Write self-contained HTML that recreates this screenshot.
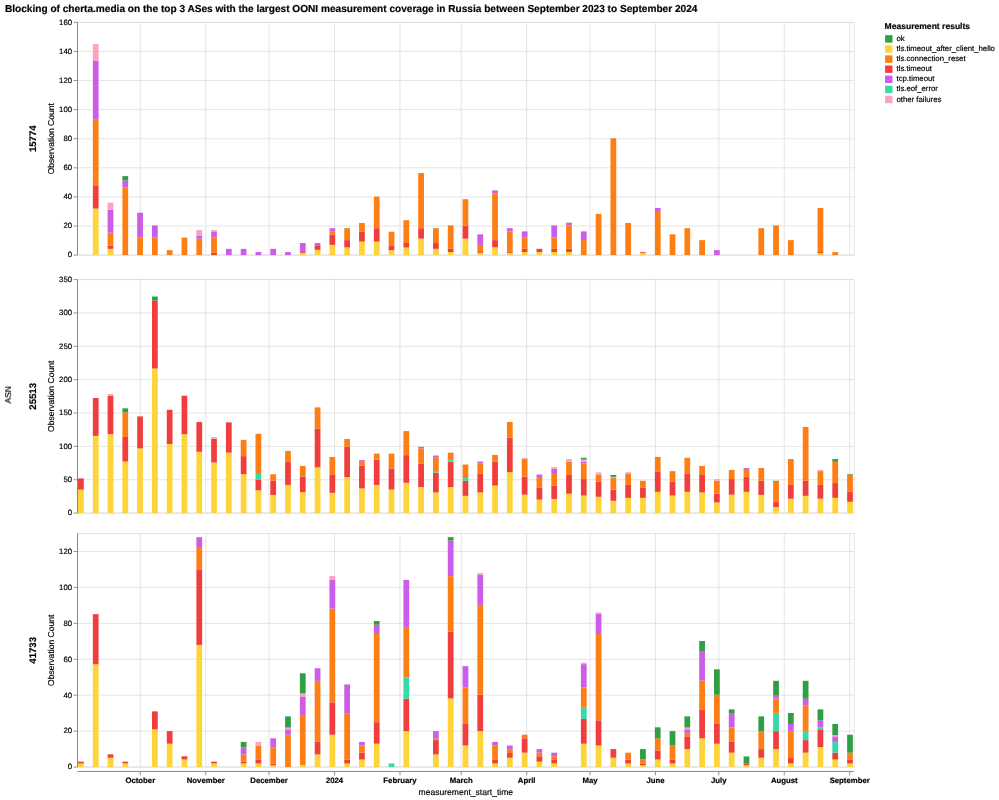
<!DOCTYPE html>
<html><head><meta charset="utf-8"><title>chart</title>
<style>html,body{margin:0;padding:0;background:#fff;}body{width:999px;height:800px;overflow:hidden;font-family:"Liberation Sans",sans-serif;}svg{display:block;}</style>
</head><body>
<svg width="999" height="800" viewBox="0 0 999 800" font-family="Liberation Sans, sans-serif" text-rendering="geometricPrecision">
<rect width="999" height="800" fill="#fff"/>
<g stroke="#ddd" stroke-width="0.78" fill="none">
<line x1="140.30" x2="140.30" y1="22.35" y2="255.10"/>
<line x1="205.75" x2="205.75" y1="22.35" y2="255.10"/>
<line x1="269.09" x2="269.09" y1="22.35" y2="255.10"/>
<line x1="334.54" x2="334.54" y1="22.35" y2="255.10"/>
<line x1="399.99" x2="399.99" y1="22.35" y2="255.10"/>
<line x1="461.22" x2="461.22" y1="22.35" y2="255.10"/>
<line x1="526.67" x2="526.67" y1="22.35" y2="255.10"/>
<line x1="590.01" x2="590.01" y1="22.35" y2="255.10"/>
<line x1="655.46" x2="655.46" y1="22.35" y2="255.10"/>
<line x1="718.80" x2="718.80" y1="22.35" y2="255.10"/>
<line x1="784.25" x2="784.25" y1="22.35" y2="255.10"/>
<line x1="849.70" x2="849.70" y1="22.35" y2="255.10"/>
<line x1="77.50" x2="854.15" y1="255.10" y2="255.10"/>
<line x1="77.50" x2="854.15" y1="226.01" y2="226.01"/>
<line x1="77.50" x2="854.15" y1="196.91" y2="196.91"/>
<line x1="77.50" x2="854.15" y1="167.82" y2="167.82"/>
<line x1="77.50" x2="854.15" y1="138.72" y2="138.72"/>
<line x1="77.50" x2="854.15" y1="109.63" y2="109.63"/>
<line x1="77.50" x2="854.15" y1="80.54" y2="80.54"/>
<line x1="77.50" x2="854.15" y1="51.44" y2="51.44"/>
<line x1="77.50" x2="854.15" y1="22.35" y2="22.35"/>
<rect x="77.50" y="22.35" width="776.65" height="232.75"/>
</g>
<g stroke="#888" stroke-width="0.9">
<line x1="77.50" x2="77.50" y1="22.35" y2="255.10" stroke-width="1"/>
<line x1="73.60" x2="77.50" y1="255.10" y2="255.10"/>
<line x1="73.60" x2="77.50" y1="226.01" y2="226.01"/>
<line x1="73.60" x2="77.50" y1="196.91" y2="196.91"/>
<line x1="73.60" x2="77.50" y1="167.82" y2="167.82"/>
<line x1="73.60" x2="77.50" y1="138.72" y2="138.72"/>
<line x1="73.60" x2="77.50" y1="109.63" y2="109.63"/>
<line x1="73.60" x2="77.50" y1="80.54" y2="80.54"/>
<line x1="73.60" x2="77.50" y1="51.44" y2="51.44"/>
<line x1="73.60" x2="77.50" y1="22.35" y2="22.35"/>
</g>
<g>
<rect x="92.84" y="208.55" width="5.75" height="46.55" fill="#ffd43b"/>
<rect x="92.84" y="185.28" width="5.75" height="23.28" fill="#f03e3e"/>
<rect x="92.84" y="119.81" width="5.75" height="65.46" fill="#fd7e14"/>
<rect x="92.84" y="60.90" width="5.75" height="58.91" fill="#cc5de8"/>
<rect x="92.84" y="44.17" width="5.75" height="16.73" fill="#faa2c1"/>
<rect x="107.62" y="248.84" width="5.75" height="6.26" fill="#ffd43b"/>
<rect x="107.62" y="245.79" width="5.75" height="3.05" fill="#f03e3e"/>
<rect x="107.62" y="232.70" width="5.75" height="13.09" fill="#fd7e14"/>
<rect x="107.62" y="209.71" width="5.75" height="22.98" fill="#cc5de8"/>
<rect x="107.62" y="202.73" width="5.75" height="6.98" fill="#faa2c1"/>
<rect x="122.41" y="187.60" width="5.75" height="67.50" fill="#fd7e14"/>
<rect x="122.41" y="180.47" width="5.75" height="7.13" fill="#cc5de8"/>
<rect x="122.41" y="176.11" width="5.75" height="4.36" fill="#2f9e44"/>
<rect x="137.20" y="237.21" width="5.75" height="17.89" fill="#fd7e14"/>
<rect x="137.20" y="212.62" width="5.75" height="24.58" fill="#cc5de8"/>
<rect x="152.00" y="237.21" width="5.75" height="17.89" fill="#fd7e14"/>
<rect x="152.00" y="225.42" width="5.75" height="11.78" fill="#cc5de8"/>
<rect x="166.78" y="250.15" width="5.75" height="4.95" fill="#fd7e14"/>
<rect x="181.57" y="237.64" width="5.75" height="17.46" fill="#fd7e14"/>
<rect x="196.37" y="238.66" width="5.75" height="16.44" fill="#fd7e14"/>
<rect x="196.37" y="235.46" width="5.75" height="3.20" fill="#cc5de8"/>
<rect x="196.37" y="230.08" width="5.75" height="5.38" fill="#faa2c1"/>
<rect x="211.15" y="252.92" width="5.75" height="2.18" fill="#f03e3e"/>
<rect x="211.15" y="237.21" width="5.75" height="15.71" fill="#fd7e14"/>
<rect x="211.15" y="231.39" width="5.75" height="5.82" fill="#cc5de8"/>
<rect x="211.15" y="230.08" width="5.75" height="1.31" fill="#faa2c1"/>
<rect x="225.94" y="248.84" width="5.75" height="6.26" fill="#cc5de8"/>
<rect x="240.74" y="248.84" width="5.75" height="6.26" fill="#cc5de8"/>
<rect x="255.52" y="252.05" width="5.75" height="3.05" fill="#cc5de8"/>
<rect x="270.31" y="248.84" width="5.75" height="6.26" fill="#cc5de8"/>
<rect x="285.11" y="252.05" width="5.75" height="3.05" fill="#cc5de8"/>
<rect x="299.89" y="252.92" width="5.75" height="2.18" fill="#ffd43b"/>
<rect x="299.89" y="252.05" width="5.75" height="0.87" fill="#f03e3e"/>
<rect x="299.89" y="243.03" width="5.75" height="9.02" fill="#cc5de8"/>
<rect x="314.69" y="249.86" width="5.75" height="5.24" fill="#ffd43b"/>
<rect x="314.69" y="245.94" width="5.75" height="3.93" fill="#f03e3e"/>
<rect x="314.69" y="243.03" width="5.75" height="2.91" fill="#cc5de8"/>
<rect x="329.47" y="244.92" width="5.75" height="10.18" fill="#ffd43b"/>
<rect x="329.47" y="234.44" width="5.75" height="10.47" fill="#f03e3e"/>
<rect x="329.47" y="231.68" width="5.75" height="2.76" fill="#fd7e14"/>
<rect x="329.47" y="228.19" width="5.75" height="3.49" fill="#cc5de8"/>
<rect x="344.26" y="247.39" width="5.75" height="7.71" fill="#ffd43b"/>
<rect x="344.26" y="240.12" width="5.75" height="7.27" fill="#f03e3e"/>
<rect x="344.26" y="228.19" width="5.75" height="11.93" fill="#fd7e14"/>
<rect x="359.06" y="241.57" width="5.75" height="13.53" fill="#ffd43b"/>
<rect x="359.06" y="231.39" width="5.75" height="10.18" fill="#f03e3e"/>
<rect x="359.06" y="222.95" width="5.75" height="8.44" fill="#fd7e14"/>
<rect x="373.84" y="241.57" width="5.75" height="13.53" fill="#ffd43b"/>
<rect x="373.84" y="228.19" width="5.75" height="13.38" fill="#f03e3e"/>
<rect x="373.84" y="196.62" width="5.75" height="31.57" fill="#fd7e14"/>
<rect x="388.63" y="250.15" width="5.75" height="4.95" fill="#ffd43b"/>
<rect x="388.63" y="245.94" width="5.75" height="4.22" fill="#f03e3e"/>
<rect x="388.63" y="231.68" width="5.75" height="14.26" fill="#fd7e14"/>
<rect x="403.43" y="247.54" width="5.75" height="7.56" fill="#ffd43b"/>
<rect x="403.43" y="243.03" width="5.75" height="4.51" fill="#f03e3e"/>
<rect x="403.43" y="220.19" width="5.75" height="22.84" fill="#fd7e14"/>
<rect x="418.21" y="238.66" width="5.75" height="16.44" fill="#ffd43b"/>
<rect x="418.21" y="228.19" width="5.75" height="10.47" fill="#f03e3e"/>
<rect x="418.21" y="173.06" width="5.75" height="55.13" fill="#fd7e14"/>
<rect x="433.00" y="248.84" width="5.75" height="6.26" fill="#ffd43b"/>
<rect x="433.00" y="243.03" width="5.75" height="5.82" fill="#f03e3e"/>
<rect x="433.00" y="228.19" width="5.75" height="14.84" fill="#fd7e14"/>
<rect x="447.80" y="252.05" width="5.75" height="3.05" fill="#ffd43b"/>
<rect x="447.80" y="248.84" width="5.75" height="3.20" fill="#f03e3e"/>
<rect x="447.80" y="225.42" width="5.75" height="23.42" fill="#fd7e14"/>
<rect x="462.58" y="238.66" width="5.75" height="16.44" fill="#ffd43b"/>
<rect x="462.58" y="225.42" width="5.75" height="13.24" fill="#f03e3e"/>
<rect x="462.58" y="199.24" width="5.75" height="26.18" fill="#fd7e14"/>
<rect x="477.38" y="252.92" width="5.75" height="2.18" fill="#ffd43b"/>
<rect x="477.38" y="252.05" width="5.75" height="0.87" fill="#f03e3e"/>
<rect x="477.38" y="245.79" width="5.75" height="6.26" fill="#fd7e14"/>
<rect x="477.38" y="234.30" width="5.75" height="11.49" fill="#cc5de8"/>
<rect x="492.17" y="247.39" width="5.75" height="7.71" fill="#ffd43b"/>
<rect x="492.17" y="240.12" width="5.75" height="7.27" fill="#f03e3e"/>
<rect x="492.17" y="193.71" width="5.75" height="46.40" fill="#fd7e14"/>
<rect x="492.17" y="190.37" width="5.75" height="3.35" fill="#cc5de8"/>
<rect x="506.95" y="252.92" width="5.75" height="2.18" fill="#ffd43b"/>
<rect x="506.95" y="252.05" width="5.75" height="0.87" fill="#f03e3e"/>
<rect x="506.95" y="231.39" width="5.75" height="20.66" fill="#fd7e14"/>
<rect x="506.95" y="228.19" width="5.75" height="3.20" fill="#cc5de8"/>
<rect x="521.75" y="252.05" width="5.75" height="3.05" fill="#ffd43b"/>
<rect x="521.75" y="248.84" width="5.75" height="3.20" fill="#f03e3e"/>
<rect x="521.75" y="237.64" width="5.75" height="11.20" fill="#fd7e14"/>
<rect x="521.75" y="231.39" width="5.75" height="6.26" fill="#cc5de8"/>
<rect x="536.53" y="252.05" width="5.75" height="3.05" fill="#ffd43b"/>
<rect x="536.53" y="248.84" width="5.75" height="3.20" fill="#f03e3e"/>
<rect x="551.32" y="252.05" width="5.75" height="3.05" fill="#ffd43b"/>
<rect x="551.32" y="248.84" width="5.75" height="3.20" fill="#f03e3e"/>
<rect x="551.32" y="237.35" width="5.75" height="11.49" fill="#fd7e14"/>
<rect x="551.32" y="225.42" width="5.75" height="11.93" fill="#cc5de8"/>
<rect x="566.12" y="252.05" width="5.75" height="3.05" fill="#ffd43b"/>
<rect x="566.12" y="248.84" width="5.75" height="3.20" fill="#f03e3e"/>
<rect x="566.12" y="225.42" width="5.75" height="23.42" fill="#fd7e14"/>
<rect x="566.12" y="222.66" width="5.75" height="2.76" fill="#cc5de8"/>
<rect x="580.90" y="240.12" width="5.75" height="14.98" fill="#fd7e14"/>
<rect x="580.90" y="231.39" width="5.75" height="8.73" fill="#cc5de8"/>
<rect x="595.69" y="213.93" width="5.75" height="41.17" fill="#fd7e14"/>
<rect x="610.48" y="138.29" width="5.75" height="116.81" fill="#fd7e14"/>
<rect x="625.27" y="222.95" width="5.75" height="32.15" fill="#fd7e14"/>
<rect x="640.06" y="252.92" width="5.75" height="2.18" fill="#ffd43b"/>
<rect x="640.06" y="252.05" width="5.75" height="0.87" fill="#f03e3e"/>
<rect x="654.85" y="211.02" width="5.75" height="44.08" fill="#fd7e14"/>
<rect x="654.85" y="207.97" width="5.75" height="3.05" fill="#cc5de8"/>
<rect x="669.64" y="234.30" width="5.75" height="20.80" fill="#fd7e14"/>
<rect x="684.43" y="228.19" width="5.75" height="26.91" fill="#fd7e14"/>
<rect x="699.22" y="240.12" width="5.75" height="14.98" fill="#fd7e14"/>
<rect x="714.01" y="250.15" width="5.75" height="4.95" fill="#cc5de8"/>
<rect x="758.38" y="228.19" width="5.75" height="26.91" fill="#fd7e14"/>
<rect x="773.17" y="225.42" width="5.75" height="29.68" fill="#fd7e14"/>
<rect x="787.96" y="240.12" width="5.75" height="14.98" fill="#fd7e14"/>
<rect x="817.54" y="253.21" width="5.75" height="1.89" fill="#ffd43b"/>
<rect x="817.54" y="252.05" width="5.75" height="1.16" fill="#f03e3e"/>
<rect x="817.54" y="207.97" width="5.75" height="44.08" fill="#fd7e14"/>
<rect x="832.33" y="252.05" width="5.75" height="3.05" fill="#fd7e14"/>
</g>
<g stroke="#ddd" stroke-width="0.78" fill="none">
<line x1="140.30" x2="140.30" y1="279.60" y2="513.10"/>
<line x1="205.75" x2="205.75" y1="279.60" y2="513.10"/>
<line x1="269.09" x2="269.09" y1="279.60" y2="513.10"/>
<line x1="334.54" x2="334.54" y1="279.60" y2="513.10"/>
<line x1="399.99" x2="399.99" y1="279.60" y2="513.10"/>
<line x1="461.22" x2="461.22" y1="279.60" y2="513.10"/>
<line x1="526.67" x2="526.67" y1="279.60" y2="513.10"/>
<line x1="590.01" x2="590.01" y1="279.60" y2="513.10"/>
<line x1="655.46" x2="655.46" y1="279.60" y2="513.10"/>
<line x1="718.80" x2="718.80" y1="279.60" y2="513.10"/>
<line x1="784.25" x2="784.25" y1="279.60" y2="513.10"/>
<line x1="849.70" x2="849.70" y1="279.60" y2="513.10"/>
<line x1="77.50" x2="854.15" y1="513.10" y2="513.10"/>
<line x1="77.50" x2="854.15" y1="479.74" y2="479.74"/>
<line x1="77.50" x2="854.15" y1="446.39" y2="446.39"/>
<line x1="77.50" x2="854.15" y1="413.03" y2="413.03"/>
<line x1="77.50" x2="854.15" y1="379.67" y2="379.67"/>
<line x1="77.50" x2="854.15" y1="346.31" y2="346.31"/>
<line x1="77.50" x2="854.15" y1="312.96" y2="312.96"/>
<line x1="77.50" x2="854.15" y1="279.60" y2="279.60"/>
<rect x="77.50" y="279.60" width="776.65" height="233.50"/>
</g>
<g stroke="#888" stroke-width="0.9">
<line x1="77.50" x2="77.50" y1="279.60" y2="513.10" stroke-width="1"/>
<line x1="73.60" x2="77.50" y1="513.10" y2="513.10"/>
<line x1="73.60" x2="77.50" y1="479.74" y2="479.74"/>
<line x1="73.60" x2="77.50" y1="446.39" y2="446.39"/>
<line x1="73.60" x2="77.50" y1="413.03" y2="413.03"/>
<line x1="73.60" x2="77.50" y1="379.67" y2="379.67"/>
<line x1="73.60" x2="77.50" y1="346.31" y2="346.31"/>
<line x1="73.60" x2="77.50" y1="312.96" y2="312.96"/>
<line x1="73.60" x2="77.50" y1="279.60" y2="279.60"/>
</g>
<g>
<rect x="78.05" y="489.68" width="5.75" height="23.42" fill="#ffd43b"/>
<rect x="78.05" y="478.41" width="5.75" height="11.27" fill="#f03e3e"/>
<rect x="92.84" y="435.84" width="5.75" height="77.26" fill="#ffd43b"/>
<rect x="92.84" y="398.02" width="5.75" height="37.83" fill="#f03e3e"/>
<rect x="107.62" y="434.24" width="5.75" height="78.86" fill="#ffd43b"/>
<rect x="107.62" y="395.75" width="5.75" height="38.49" fill="#f03e3e"/>
<rect x="107.62" y="394.08" width="5.75" height="1.67" fill="#faa2c1"/>
<rect x="122.41" y="461.53" width="5.75" height="51.57" fill="#ffd43b"/>
<rect x="122.41" y="436.98" width="5.75" height="24.55" fill="#f03e3e"/>
<rect x="122.41" y="412.29" width="5.75" height="24.68" fill="#fd7e14"/>
<rect x="122.41" y="408.36" width="5.75" height="3.94" fill="#2f9e44"/>
<rect x="137.20" y="448.39" width="5.75" height="64.71" fill="#ffd43b"/>
<rect x="137.20" y="416.43" width="5.75" height="31.96" fill="#f03e3e"/>
<rect x="152.00" y="368.53" width="5.75" height="144.57" fill="#ffd43b"/>
<rect x="152.00" y="300.48" width="5.75" height="68.05" fill="#f03e3e"/>
<rect x="152.00" y="296.55" width="5.75" height="3.94" fill="#2f9e44"/>
<rect x="166.78" y="443.98" width="5.75" height="69.12" fill="#ffd43b"/>
<rect x="166.78" y="409.83" width="5.75" height="34.16" fill="#f03e3e"/>
<rect x="181.57" y="434.24" width="5.75" height="78.86" fill="#ffd43b"/>
<rect x="181.57" y="395.75" width="5.75" height="38.49" fill="#f03e3e"/>
<rect x="196.37" y="451.79" width="5.75" height="61.31" fill="#ffd43b"/>
<rect x="196.37" y="422.10" width="5.75" height="29.69" fill="#f03e3e"/>
<rect x="211.15" y="462.40" width="5.75" height="50.70" fill="#ffd43b"/>
<rect x="211.15" y="438.85" width="5.75" height="23.55" fill="#f03e3e"/>
<rect x="211.15" y="436.98" width="5.75" height="1.87" fill="#faa2c1"/>
<rect x="225.94" y="452.66" width="5.75" height="60.44" fill="#ffd43b"/>
<rect x="225.94" y="422.37" width="5.75" height="30.29" fill="#f03e3e"/>
<rect x="240.74" y="474.27" width="5.75" height="38.83" fill="#ffd43b"/>
<rect x="240.74" y="456.13" width="5.75" height="18.15" fill="#f03e3e"/>
<rect x="240.74" y="439.85" width="5.75" height="16.28" fill="#fd7e14"/>
<rect x="255.52" y="490.35" width="5.75" height="22.75" fill="#ffd43b"/>
<rect x="255.52" y="479.94" width="5.75" height="10.41" fill="#f03e3e"/>
<rect x="255.52" y="473.94" width="5.75" height="6.00" fill="#38d9a9"/>
<rect x="255.52" y="433.84" width="5.75" height="40.10" fill="#fd7e14"/>
<rect x="270.31" y="494.95" width="5.75" height="18.15" fill="#ffd43b"/>
<rect x="270.31" y="480.81" width="5.75" height="14.14" fill="#f03e3e"/>
<rect x="270.31" y="474.27" width="5.75" height="6.54" fill="#fd7e14"/>
<rect x="285.11" y="484.95" width="5.75" height="28.15" fill="#ffd43b"/>
<rect x="285.11" y="461.80" width="5.75" height="23.15" fill="#f03e3e"/>
<rect x="285.11" y="450.92" width="5.75" height="10.87" fill="#fd7e14"/>
<rect x="299.89" y="492.22" width="5.75" height="20.88" fill="#ffd43b"/>
<rect x="299.89" y="476.54" width="5.75" height="15.68" fill="#f03e3e"/>
<rect x="299.89" y="465.93" width="5.75" height="10.61" fill="#fd7e14"/>
<rect x="314.69" y="467.40" width="5.75" height="45.70" fill="#ffd43b"/>
<rect x="314.69" y="428.71" width="5.75" height="38.69" fill="#f03e3e"/>
<rect x="314.69" y="407.36" width="5.75" height="21.35" fill="#fd7e14"/>
<rect x="329.47" y="492.82" width="5.75" height="20.28" fill="#ffd43b"/>
<rect x="329.47" y="474.94" width="5.75" height="17.88" fill="#f03e3e"/>
<rect x="329.47" y="456.93" width="5.75" height="18.01" fill="#fd7e14"/>
<rect x="344.26" y="477.07" width="5.75" height="36.03" fill="#ffd43b"/>
<rect x="344.26" y="446.79" width="5.75" height="30.29" fill="#f03e3e"/>
<rect x="344.26" y="438.98" width="5.75" height="7.81" fill="#fd7e14"/>
<rect x="359.06" y="488.42" width="5.75" height="24.68" fill="#ffd43b"/>
<rect x="359.06" y="465.80" width="5.75" height="22.62" fill="#f03e3e"/>
<rect x="359.06" y="461.80" width="5.75" height="4.00" fill="#fd7e14"/>
<rect x="359.06" y="460.13" width="5.75" height="1.67" fill="#cc5de8"/>
<rect x="373.84" y="484.95" width="5.75" height="28.15" fill="#ffd43b"/>
<rect x="373.84" y="459.66" width="5.75" height="25.28" fill="#f03e3e"/>
<rect x="373.84" y="453.66" width="5.75" height="6.00" fill="#fd7e14"/>
<rect x="388.63" y="489.55" width="5.75" height="23.55" fill="#ffd43b"/>
<rect x="388.63" y="468.40" width="5.75" height="21.15" fill="#f03e3e"/>
<rect x="388.63" y="453.66" width="5.75" height="14.74" fill="#fd7e14"/>
<rect x="403.43" y="482.81" width="5.75" height="30.29" fill="#ffd43b"/>
<rect x="403.43" y="455.13" width="5.75" height="27.69" fill="#f03e3e"/>
<rect x="403.43" y="431.11" width="5.75" height="24.02" fill="#fd7e14"/>
<rect x="418.21" y="487.08" width="5.75" height="26.02" fill="#ffd43b"/>
<rect x="418.21" y="463.40" width="5.75" height="23.68" fill="#f03e3e"/>
<rect x="418.21" y="448.39" width="5.75" height="15.01" fill="#fd7e14"/>
<rect x="418.21" y="446.79" width="5.75" height="1.60" fill="#cc5de8"/>
<rect x="433.00" y="492.42" width="5.75" height="20.68" fill="#ffd43b"/>
<rect x="433.00" y="472.67" width="5.75" height="19.75" fill="#f03e3e"/>
<rect x="433.00" y="470.94" width="5.75" height="1.73" fill="#38d9a9"/>
<rect x="433.00" y="457.66" width="5.75" height="13.28" fill="#fd7e14"/>
<rect x="433.00" y="455.53" width="5.75" height="2.13" fill="#cc5de8"/>
<rect x="447.80" y="487.08" width="5.75" height="26.02" fill="#ffd43b"/>
<rect x="447.80" y="461.80" width="5.75" height="25.28" fill="#f03e3e"/>
<rect x="447.80" y="459.06" width="5.75" height="2.74" fill="#38d9a9"/>
<rect x="447.80" y="452.66" width="5.75" height="6.40" fill="#fd7e14"/>
<rect x="462.58" y="495.82" width="5.75" height="17.28" fill="#ffd43b"/>
<rect x="462.58" y="480.81" width="5.75" height="15.01" fill="#f03e3e"/>
<rect x="462.58" y="478.08" width="5.75" height="2.74" fill="#38d9a9"/>
<rect x="462.58" y="464.53" width="5.75" height="13.54" fill="#fd7e14"/>
<rect x="477.38" y="492.42" width="5.75" height="20.68" fill="#ffd43b"/>
<rect x="477.38" y="473.94" width="5.75" height="18.48" fill="#f03e3e"/>
<rect x="477.38" y="463.40" width="5.75" height="10.54" fill="#fd7e14"/>
<rect x="477.38" y="461.53" width="5.75" height="1.87" fill="#cc5de8"/>
<rect x="492.17" y="485.55" width="5.75" height="27.55" fill="#ffd43b"/>
<rect x="492.17" y="461.80" width="5.75" height="23.75" fill="#f03e3e"/>
<rect x="492.17" y="454.93" width="5.75" height="6.87" fill="#fd7e14"/>
<rect x="506.95" y="472.20" width="5.75" height="40.90" fill="#ffd43b"/>
<rect x="506.95" y="437.78" width="5.75" height="34.42" fill="#f03e3e"/>
<rect x="506.95" y="421.97" width="5.75" height="15.81" fill="#fd7e14"/>
<rect x="521.75" y="494.69" width="5.75" height="18.41" fill="#ffd43b"/>
<rect x="521.75" y="476.54" width="5.75" height="18.15" fill="#f03e3e"/>
<rect x="521.75" y="459.06" width="5.75" height="17.48" fill="#fd7e14"/>
<rect x="521.75" y="458.06" width="5.75" height="1.00" fill="#faa2c1"/>
<rect x="536.53" y="499.56" width="5.75" height="13.54" fill="#ffd43b"/>
<rect x="536.53" y="487.42" width="5.75" height="12.14" fill="#f03e3e"/>
<rect x="536.53" y="477.81" width="5.75" height="9.61" fill="#fd7e14"/>
<rect x="536.53" y="474.54" width="5.75" height="3.27" fill="#cc5de8"/>
<rect x="551.32" y="498.96" width="5.75" height="14.14" fill="#ffd43b"/>
<rect x="551.32" y="485.81" width="5.75" height="13.14" fill="#f03e3e"/>
<rect x="551.32" y="473.94" width="5.75" height="11.88" fill="#fd7e14"/>
<rect x="551.32" y="468.94" width="5.75" height="5.00" fill="#cc5de8"/>
<rect x="551.32" y="467.13" width="5.75" height="1.80" fill="#faa2c1"/>
<rect x="566.12" y="493.69" width="5.75" height="19.41" fill="#ffd43b"/>
<rect x="566.12" y="474.94" width="5.75" height="18.75" fill="#f03e3e"/>
<rect x="566.12" y="461.80" width="5.75" height="13.14" fill="#fd7e14"/>
<rect x="566.12" y="459.06" width="5.75" height="2.74" fill="#faa2c1"/>
<rect x="580.90" y="495.55" width="5.75" height="17.55" fill="#ffd43b"/>
<rect x="580.90" y="479.08" width="5.75" height="16.48" fill="#f03e3e"/>
<rect x="580.90" y="463.40" width="5.75" height="15.68" fill="#fd7e14"/>
<rect x="580.90" y="461.53" width="5.75" height="1.87" fill="#cc5de8"/>
<rect x="580.90" y="459.60" width="5.75" height="1.93" fill="#faa2c1"/>
<rect x="580.90" y="457.79" width="5.75" height="1.80" fill="#2f9e44"/>
<rect x="595.69" y="496.82" width="5.75" height="16.28" fill="#ffd43b"/>
<rect x="595.69" y="481.81" width="5.75" height="15.01" fill="#f03e3e"/>
<rect x="595.69" y="474.67" width="5.75" height="7.14" fill="#fd7e14"/>
<rect x="595.69" y="472.40" width="5.75" height="2.27" fill="#faa2c1"/>
<rect x="610.48" y="500.82" width="5.75" height="12.28" fill="#ffd43b"/>
<rect x="610.48" y="489.68" width="5.75" height="11.14" fill="#f03e3e"/>
<rect x="610.48" y="478.08" width="5.75" height="11.61" fill="#fd7e14"/>
<rect x="610.48" y="476.81" width="5.75" height="1.27" fill="#faa2c1"/>
<rect x="610.48" y="474.94" width="5.75" height="1.87" fill="#2f9e44"/>
<rect x="625.27" y="497.82" width="5.75" height="15.28" fill="#ffd43b"/>
<rect x="625.27" y="484.95" width="5.75" height="12.88" fill="#f03e3e"/>
<rect x="625.27" y="473.94" width="5.75" height="11.01" fill="#fd7e14"/>
<rect x="625.27" y="472.20" width="5.75" height="1.73" fill="#faa2c1"/>
<rect x="640.06" y="497.82" width="5.75" height="15.28" fill="#ffd43b"/>
<rect x="640.06" y="487.42" width="5.75" height="10.41" fill="#f03e3e"/>
<rect x="640.06" y="480.81" width="5.75" height="6.60" fill="#fd7e14"/>
<rect x="654.85" y="491.82" width="5.75" height="21.28" fill="#ffd43b"/>
<rect x="654.85" y="471.40" width="5.75" height="20.41" fill="#f03e3e"/>
<rect x="654.85" y="456.93" width="5.75" height="14.48" fill="#fd7e14"/>
<rect x="669.64" y="495.55" width="5.75" height="17.55" fill="#ffd43b"/>
<rect x="669.64" y="481.81" width="5.75" height="13.74" fill="#f03e3e"/>
<rect x="669.64" y="471.14" width="5.75" height="10.67" fill="#fd7e14"/>
<rect x="684.43" y="491.82" width="5.75" height="21.28" fill="#ffd43b"/>
<rect x="684.43" y="473.94" width="5.75" height="17.88" fill="#f03e3e"/>
<rect x="684.43" y="457.79" width="5.75" height="16.14" fill="#fd7e14"/>
<rect x="699.22" y="492.42" width="5.75" height="20.68" fill="#ffd43b"/>
<rect x="699.22" y="474.94" width="5.75" height="17.48" fill="#f03e3e"/>
<rect x="699.22" y="465.93" width="5.75" height="9.01" fill="#fd7e14"/>
<rect x="714.01" y="502.49" width="5.75" height="10.61" fill="#ffd43b"/>
<rect x="714.01" y="493.69" width="5.75" height="8.81" fill="#f03e3e"/>
<rect x="714.01" y="480.81" width="5.75" height="12.88" fill="#fd7e14"/>
<rect x="714.01" y="479.08" width="5.75" height="1.73" fill="#faa2c1"/>
<rect x="728.80" y="494.69" width="5.75" height="18.41" fill="#ffd43b"/>
<rect x="728.80" y="479.08" width="5.75" height="15.61" fill="#f03e3e"/>
<rect x="728.80" y="469.94" width="5.75" height="9.14" fill="#fd7e14"/>
<rect x="743.59" y="491.82" width="5.75" height="21.28" fill="#ffd43b"/>
<rect x="743.59" y="476.81" width="5.75" height="15.01" fill="#f03e3e"/>
<rect x="743.59" y="469.94" width="5.75" height="6.87" fill="#fd7e14"/>
<rect x="743.59" y="468.07" width="5.75" height="1.87" fill="#cc5de8"/>
<rect x="758.38" y="494.95" width="5.75" height="18.15" fill="#ffd43b"/>
<rect x="758.38" y="480.81" width="5.75" height="14.14" fill="#f03e3e"/>
<rect x="758.38" y="468.07" width="5.75" height="12.74" fill="#fd7e14"/>
<rect x="773.17" y="507.10" width="5.75" height="6.00" fill="#ffd43b"/>
<rect x="773.17" y="502.09" width="5.75" height="5.00" fill="#f03e3e"/>
<rect x="773.17" y="481.81" width="5.75" height="20.28" fill="#fd7e14"/>
<rect x="773.17" y="480.81" width="5.75" height="1.00" fill="#2f9e44"/>
<rect x="787.96" y="498.69" width="5.75" height="14.41" fill="#ffd43b"/>
<rect x="787.96" y="484.95" width="5.75" height="13.74" fill="#f03e3e"/>
<rect x="787.96" y="459.06" width="5.75" height="25.89" fill="#fd7e14"/>
<rect x="802.75" y="495.82" width="5.75" height="17.28" fill="#ffd43b"/>
<rect x="802.75" y="480.81" width="5.75" height="15.01" fill="#f03e3e"/>
<rect x="802.75" y="426.97" width="5.75" height="53.84" fill="#fd7e14"/>
<rect x="817.54" y="498.69" width="5.75" height="14.41" fill="#ffd43b"/>
<rect x="817.54" y="484.95" width="5.75" height="13.74" fill="#f03e3e"/>
<rect x="817.54" y="471.14" width="5.75" height="13.81" fill="#fd7e14"/>
<rect x="817.54" y="469.94" width="5.75" height="1.20" fill="#faa2c1"/>
<rect x="832.33" y="497.82" width="5.75" height="15.28" fill="#ffd43b"/>
<rect x="832.33" y="483.08" width="5.75" height="14.74" fill="#f03e3e"/>
<rect x="832.33" y="461.80" width="5.75" height="21.28" fill="#fd7e14"/>
<rect x="832.33" y="459.06" width="5.75" height="2.74" fill="#2f9e44"/>
<rect x="847.12" y="501.83" width="5.75" height="11.27" fill="#ffd43b"/>
<rect x="847.12" y="491.42" width="5.75" height="10.41" fill="#f03e3e"/>
<rect x="847.12" y="474.54" width="5.75" height="16.88" fill="#fd7e14"/>
<rect x="847.12" y="473.94" width="5.75" height="0.60" fill="#2f9e44"/>
</g>
<g stroke="#ddd" stroke-width="0.78" fill="none">
<line x1="140.30" x2="140.30" y1="533.55" y2="767.05"/>
<line x1="205.75" x2="205.75" y1="533.55" y2="767.05"/>
<line x1="269.09" x2="269.09" y1="533.55" y2="767.05"/>
<line x1="334.54" x2="334.54" y1="533.55" y2="767.05"/>
<line x1="399.99" x2="399.99" y1="533.55" y2="767.05"/>
<line x1="461.22" x2="461.22" y1="533.55" y2="767.05"/>
<line x1="526.67" x2="526.67" y1="533.55" y2="767.05"/>
<line x1="590.01" x2="590.01" y1="533.55" y2="767.05"/>
<line x1="655.46" x2="655.46" y1="533.55" y2="767.05"/>
<line x1="718.80" x2="718.80" y1="533.55" y2="767.05"/>
<line x1="784.25" x2="784.25" y1="533.55" y2="767.05"/>
<line x1="849.70" x2="849.70" y1="533.55" y2="767.05"/>
<line x1="77.50" x2="854.15" y1="767.05" y2="767.05"/>
<line x1="77.50" x2="854.15" y1="731.13" y2="731.13"/>
<line x1="77.50" x2="854.15" y1="695.20" y2="695.20"/>
<line x1="77.50" x2="854.15" y1="659.28" y2="659.28"/>
<line x1="77.50" x2="854.15" y1="623.36" y2="623.36"/>
<line x1="77.50" x2="854.15" y1="587.43" y2="587.43"/>
<line x1="77.50" x2="854.15" y1="551.51" y2="551.51"/>
<rect x="77.50" y="533.55" width="776.65" height="233.50"/>
</g>
<g stroke="#888" stroke-width="0.9">
<line x1="77.50" x2="77.50" y1="533.55" y2="767.05" stroke-width="1"/>
<line x1="73.60" x2="77.50" y1="767.05" y2="767.05"/>
<line x1="73.60" x2="77.50" y1="731.13" y2="731.13"/>
<line x1="73.60" x2="77.50" y1="695.20" y2="695.20"/>
<line x1="73.60" x2="77.50" y1="659.28" y2="659.28"/>
<line x1="73.60" x2="77.50" y1="623.36" y2="623.36"/>
<line x1="73.60" x2="77.50" y1="587.43" y2="587.43"/>
<line x1="73.60" x2="77.50" y1="551.51" y2="551.51"/>
</g>
<g>
<rect x="78.05" y="763.46" width="5.75" height="3.59" fill="#ffd43b"/>
<rect x="78.05" y="761.66" width="5.75" height="1.80" fill="#f03e3e"/>
<rect x="92.84" y="664.31" width="5.75" height="102.74" fill="#ffd43b"/>
<rect x="92.84" y="614.20" width="5.75" height="50.11" fill="#f03e3e"/>
<rect x="107.62" y="757.71" width="5.75" height="9.34" fill="#ffd43b"/>
<rect x="107.62" y="754.30" width="5.75" height="3.41" fill="#f03e3e"/>
<rect x="122.41" y="763.46" width="5.75" height="3.59" fill="#ffd43b"/>
<rect x="122.41" y="761.66" width="5.75" height="1.80" fill="#f03e3e"/>
<rect x="152.00" y="729.33" width="5.75" height="37.72" fill="#ffd43b"/>
<rect x="152.00" y="711.37" width="5.75" height="17.96" fill="#f03e3e"/>
<rect x="166.78" y="743.70" width="5.75" height="23.35" fill="#ffd43b"/>
<rect x="166.78" y="731.13" width="5.75" height="12.57" fill="#f03e3e"/>
<rect x="181.57" y="759.51" width="5.75" height="7.54" fill="#ffd43b"/>
<rect x="181.57" y="756.27" width="5.75" height="3.23" fill="#f03e3e"/>
<rect x="196.37" y="644.91" width="5.75" height="122.14" fill="#ffd43b"/>
<rect x="196.37" y="569.29" width="5.75" height="75.62" fill="#f03e3e"/>
<rect x="196.37" y="547.92" width="5.75" height="21.37" fill="#fd7e14"/>
<rect x="196.37" y="537.14" width="5.75" height="10.78" fill="#cc5de8"/>
<rect x="211.15" y="763.46" width="5.75" height="3.59" fill="#ffd43b"/>
<rect x="211.15" y="761.66" width="5.75" height="1.80" fill="#f03e3e"/>
<rect x="240.74" y="763.46" width="5.75" height="3.59" fill="#ffd43b"/>
<rect x="240.74" y="761.66" width="5.75" height="1.80" fill="#f03e3e"/>
<rect x="240.74" y="754.48" width="5.75" height="7.18" fill="#fd7e14"/>
<rect x="240.74" y="747.29" width="5.75" height="7.18" fill="#cc5de8"/>
<rect x="240.74" y="741.90" width="5.75" height="5.39" fill="#2f9e44"/>
<rect x="255.52" y="763.46" width="5.75" height="3.59" fill="#ffd43b"/>
<rect x="255.52" y="759.87" width="5.75" height="3.59" fill="#f03e3e"/>
<rect x="255.52" y="745.50" width="5.75" height="14.37" fill="#fd7e14"/>
<rect x="255.52" y="741.90" width="5.75" height="3.59" fill="#faa2c1"/>
<rect x="270.31" y="765.25" width="5.75" height="1.80" fill="#ffd43b"/>
<rect x="270.31" y="763.46" width="5.75" height="1.80" fill="#f03e3e"/>
<rect x="270.31" y="747.29" width="5.75" height="16.17" fill="#fd7e14"/>
<rect x="270.31" y="738.31" width="5.75" height="8.98" fill="#cc5de8"/>
<rect x="285.11" y="734.72" width="5.75" height="32.33" fill="#fd7e14"/>
<rect x="285.11" y="729.33" width="5.75" height="5.39" fill="#cc5de8"/>
<rect x="285.11" y="727.53" width="5.75" height="1.80" fill="#faa2c1"/>
<rect x="285.11" y="716.40" width="5.75" height="11.14" fill="#2f9e44"/>
<rect x="299.89" y="764.89" width="5.75" height="2.16" fill="#ffd43b"/>
<rect x="299.89" y="714.96" width="5.75" height="49.93" fill="#fd7e14"/>
<rect x="299.89" y="697.00" width="5.75" height="17.96" fill="#cc5de8"/>
<rect x="299.89" y="693.41" width="5.75" height="3.59" fill="#faa2c1"/>
<rect x="299.89" y="673.29" width="5.75" height="20.12" fill="#2f9e44"/>
<rect x="314.69" y="754.48" width="5.75" height="12.57" fill="#ffd43b"/>
<rect x="314.69" y="741.90" width="5.75" height="12.57" fill="#f03e3e"/>
<rect x="314.69" y="680.83" width="5.75" height="61.07" fill="#fd7e14"/>
<rect x="314.69" y="668.26" width="5.75" height="12.57" fill="#cc5de8"/>
<rect x="329.47" y="734.72" width="5.75" height="32.33" fill="#ffd43b"/>
<rect x="329.47" y="702.39" width="5.75" height="32.33" fill="#f03e3e"/>
<rect x="329.47" y="608.63" width="5.75" height="93.76" fill="#fd7e14"/>
<rect x="329.47" y="579.89" width="5.75" height="28.74" fill="#cc5de8"/>
<rect x="329.47" y="576.12" width="5.75" height="3.77" fill="#faa2c1"/>
<rect x="344.26" y="763.46" width="5.75" height="3.59" fill="#ffd43b"/>
<rect x="344.26" y="759.51" width="5.75" height="3.95" fill="#f03e3e"/>
<rect x="344.26" y="713.17" width="5.75" height="46.34" fill="#fd7e14"/>
<rect x="344.26" y="684.43" width="5.75" height="28.74" fill="#cc5de8"/>
<rect x="359.06" y="759.51" width="5.75" height="7.54" fill="#ffd43b"/>
<rect x="359.06" y="752.68" width="5.75" height="6.83" fill="#f03e3e"/>
<rect x="359.06" y="745.50" width="5.75" height="7.18" fill="#fd7e14"/>
<rect x="359.06" y="741.90" width="5.75" height="3.59" fill="#cc5de8"/>
<rect x="373.84" y="743.70" width="5.75" height="23.35" fill="#ffd43b"/>
<rect x="373.84" y="722.15" width="5.75" height="21.55" fill="#f03e3e"/>
<rect x="373.84" y="633.95" width="5.75" height="88.19" fill="#fd7e14"/>
<rect x="373.84" y="624.79" width="5.75" height="9.16" fill="#cc5de8"/>
<rect x="373.84" y="621.02" width="5.75" height="3.77" fill="#2f9e44"/>
<rect x="388.63" y="763.46" width="5.75" height="3.59" fill="#38d9a9"/>
<rect x="403.43" y="731.13" width="5.75" height="35.92" fill="#ffd43b"/>
<rect x="403.43" y="698.80" width="5.75" height="32.33" fill="#f03e3e"/>
<rect x="403.43" y="677.24" width="5.75" height="21.55" fill="#38d9a9"/>
<rect x="403.43" y="626.95" width="5.75" height="50.29" fill="#fd7e14"/>
<rect x="403.43" y="579.89" width="5.75" height="47.06" fill="#cc5de8"/>
<rect x="433.00" y="754.48" width="5.75" height="12.57" fill="#ffd43b"/>
<rect x="433.00" y="740.11" width="5.75" height="14.37" fill="#f03e3e"/>
<rect x="433.00" y="738.31" width="5.75" height="1.80" fill="#fd7e14"/>
<rect x="433.00" y="731.13" width="5.75" height="7.18" fill="#cc5de8"/>
<rect x="447.80" y="698.44" width="5.75" height="68.61" fill="#ffd43b"/>
<rect x="447.80" y="631.80" width="5.75" height="66.64" fill="#f03e3e"/>
<rect x="447.80" y="576.12" width="5.75" height="55.68" fill="#fd7e14"/>
<rect x="447.80" y="540.55" width="5.75" height="35.56" fill="#cc5de8"/>
<rect x="447.80" y="537.14" width="5.75" height="3.41" fill="#2f9e44"/>
<rect x="462.58" y="745.50" width="5.75" height="21.55" fill="#ffd43b"/>
<rect x="462.58" y="723.94" width="5.75" height="21.55" fill="#f03e3e"/>
<rect x="462.58" y="687.30" width="5.75" height="36.64" fill="#fd7e14"/>
<rect x="462.58" y="666.11" width="5.75" height="21.19" fill="#cc5de8"/>
<rect x="477.38" y="731.13" width="5.75" height="35.92" fill="#ffd43b"/>
<rect x="477.38" y="694.66" width="5.75" height="36.46" fill="#f03e3e"/>
<rect x="477.38" y="604.86" width="5.75" height="89.81" fill="#fd7e14"/>
<rect x="477.38" y="574.68" width="5.75" height="30.18" fill="#cc5de8"/>
<rect x="477.38" y="572.89" width="5.75" height="1.80" fill="#faa2c1"/>
<rect x="492.17" y="763.46" width="5.75" height="3.59" fill="#ffd43b"/>
<rect x="492.17" y="759.87" width="5.75" height="3.59" fill="#f03e3e"/>
<rect x="492.17" y="745.50" width="5.75" height="14.37" fill="#fd7e14"/>
<rect x="492.17" y="741.90" width="5.75" height="3.59" fill="#cc5de8"/>
<rect x="506.95" y="757.71" width="5.75" height="9.34" fill="#ffd43b"/>
<rect x="506.95" y="753.04" width="5.75" height="4.67" fill="#f03e3e"/>
<rect x="506.95" y="749.09" width="5.75" height="3.95" fill="#fd7e14"/>
<rect x="506.95" y="745.50" width="5.75" height="3.59" fill="#cc5de8"/>
<rect x="521.75" y="752.68" width="5.75" height="14.37" fill="#ffd43b"/>
<rect x="521.75" y="738.31" width="5.75" height="14.37" fill="#f03e3e"/>
<rect x="521.75" y="734.72" width="5.75" height="3.59" fill="#fd7e14"/>
<rect x="536.53" y="761.66" width="5.75" height="5.39" fill="#ffd43b"/>
<rect x="536.53" y="756.27" width="5.75" height="5.39" fill="#f03e3e"/>
<rect x="536.53" y="752.68" width="5.75" height="3.59" fill="#fd7e14"/>
<rect x="536.53" y="749.09" width="5.75" height="3.59" fill="#cc5de8"/>
<rect x="551.32" y="763.46" width="5.75" height="3.59" fill="#ffd43b"/>
<rect x="551.32" y="759.87" width="5.75" height="3.59" fill="#f03e3e"/>
<rect x="551.32" y="756.27" width="5.75" height="3.59" fill="#fd7e14"/>
<rect x="551.32" y="752.68" width="5.75" height="3.59" fill="#cc5de8"/>
<rect x="580.90" y="743.70" width="5.75" height="23.35" fill="#ffd43b"/>
<rect x="580.90" y="718.91" width="5.75" height="24.79" fill="#f03e3e"/>
<rect x="580.90" y="707.78" width="5.75" height="11.14" fill="#38d9a9"/>
<rect x="580.90" y="687.48" width="5.75" height="20.30" fill="#fd7e14"/>
<rect x="580.90" y="664.13" width="5.75" height="23.35" fill="#cc5de8"/>
<rect x="580.90" y="662.69" width="5.75" height="1.44" fill="#faa2c1"/>
<rect x="595.69" y="745.50" width="5.75" height="21.55" fill="#ffd43b"/>
<rect x="595.69" y="720.35" width="5.75" height="25.15" fill="#f03e3e"/>
<rect x="595.69" y="633.95" width="5.75" height="86.39" fill="#fd7e14"/>
<rect x="595.69" y="613.66" width="5.75" height="20.30" fill="#cc5de8"/>
<rect x="595.69" y="612.40" width="5.75" height="1.26" fill="#faa2c1"/>
<rect x="610.48" y="757.71" width="5.75" height="9.34" fill="#ffd43b"/>
<rect x="610.48" y="749.09" width="5.75" height="8.62" fill="#f03e3e"/>
<rect x="625.27" y="763.46" width="5.75" height="3.59" fill="#ffd43b"/>
<rect x="625.27" y="759.51" width="5.75" height="3.95" fill="#f03e3e"/>
<rect x="625.27" y="752.68" width="5.75" height="6.83" fill="#fd7e14"/>
<rect x="640.06" y="765.25" width="5.75" height="1.80" fill="#ffd43b"/>
<rect x="640.06" y="763.46" width="5.75" height="1.80" fill="#f03e3e"/>
<rect x="640.06" y="759.51" width="5.75" height="3.95" fill="#fd7e14"/>
<rect x="640.06" y="749.09" width="5.75" height="10.42" fill="#2f9e44"/>
<rect x="654.85" y="759.51" width="5.75" height="7.54" fill="#ffd43b"/>
<rect x="654.85" y="750.53" width="5.75" height="8.98" fill="#f03e3e"/>
<rect x="654.85" y="738.31" width="5.75" height="12.21" fill="#fd7e14"/>
<rect x="654.85" y="727.35" width="5.75" height="10.96" fill="#2f9e44"/>
<rect x="669.64" y="763.46" width="5.75" height="3.59" fill="#ffd43b"/>
<rect x="669.64" y="759.51" width="5.75" height="3.95" fill="#f03e3e"/>
<rect x="669.64" y="745.50" width="5.75" height="14.01" fill="#fd7e14"/>
<rect x="669.64" y="731.13" width="5.75" height="14.37" fill="#2f9e44"/>
<rect x="684.43" y="749.09" width="5.75" height="17.96" fill="#ffd43b"/>
<rect x="684.43" y="736.34" width="5.75" height="12.75" fill="#f03e3e"/>
<rect x="684.43" y="732.92" width="5.75" height="3.41" fill="#fd7e14"/>
<rect x="684.43" y="729.33" width="5.75" height="3.59" fill="#cc5de8"/>
<rect x="684.43" y="727.53" width="5.75" height="1.80" fill="#faa2c1"/>
<rect x="684.43" y="716.40" width="5.75" height="11.14" fill="#2f9e44"/>
<rect x="699.22" y="738.31" width="5.75" height="28.74" fill="#ffd43b"/>
<rect x="699.22" y="709.39" width="5.75" height="28.92" fill="#f03e3e"/>
<rect x="699.22" y="680.48" width="5.75" height="28.92" fill="#fd7e14"/>
<rect x="699.22" y="651.74" width="5.75" height="28.74" fill="#cc5de8"/>
<rect x="699.22" y="640.96" width="5.75" height="10.78" fill="#2f9e44"/>
<rect x="714.01" y="743.70" width="5.75" height="23.35" fill="#ffd43b"/>
<rect x="714.01" y="723.94" width="5.75" height="19.76" fill="#f03e3e"/>
<rect x="714.01" y="694.66" width="5.75" height="29.28" fill="#fd7e14"/>
<rect x="714.01" y="669.34" width="5.75" height="25.33" fill="#2f9e44"/>
<rect x="728.80" y="752.68" width="5.75" height="14.37" fill="#ffd43b"/>
<rect x="728.80" y="741.90" width="5.75" height="10.78" fill="#f03e3e"/>
<rect x="728.80" y="727.35" width="5.75" height="14.55" fill="#fd7e14"/>
<rect x="728.80" y="712.99" width="5.75" height="14.37" fill="#cc5de8"/>
<rect x="728.80" y="709.39" width="5.75" height="3.59" fill="#2f9e44"/>
<rect x="743.59" y="765.25" width="5.75" height="1.80" fill="#ffd43b"/>
<rect x="743.59" y="763.64" width="5.75" height="1.62" fill="#f03e3e"/>
<rect x="743.59" y="756.45" width="5.75" height="7.18" fill="#2f9e44"/>
<rect x="758.38" y="757.71" width="5.75" height="9.34" fill="#ffd43b"/>
<rect x="758.38" y="749.09" width="5.75" height="8.62" fill="#f03e3e"/>
<rect x="758.38" y="731.13" width="5.75" height="17.96" fill="#fd7e14"/>
<rect x="758.38" y="716.40" width="5.75" height="14.73" fill="#2f9e44"/>
<rect x="773.17" y="749.09" width="5.75" height="17.96" fill="#ffd43b"/>
<rect x="773.17" y="731.13" width="5.75" height="17.96" fill="#f03e3e"/>
<rect x="773.17" y="713.17" width="5.75" height="17.96" fill="#38d9a9"/>
<rect x="773.17" y="698.62" width="5.75" height="14.55" fill="#fd7e14"/>
<rect x="773.17" y="695.02" width="5.75" height="3.59" fill="#cc5de8"/>
<rect x="773.17" y="680.83" width="5.75" height="14.19" fill="#2f9e44"/>
<rect x="787.96" y="763.46" width="5.75" height="3.59" fill="#ffd43b"/>
<rect x="787.96" y="758.07" width="5.75" height="5.39" fill="#f03e3e"/>
<rect x="787.96" y="731.13" width="5.75" height="26.94" fill="#fd7e14"/>
<rect x="787.96" y="723.94" width="5.75" height="7.18" fill="#cc5de8"/>
<rect x="787.96" y="712.99" width="5.75" height="10.96" fill="#2f9e44"/>
<rect x="802.75" y="752.68" width="5.75" height="14.37" fill="#ffd43b"/>
<rect x="802.75" y="740.11" width="5.75" height="12.57" fill="#f03e3e"/>
<rect x="802.75" y="731.13" width="5.75" height="8.98" fill="#38d9a9"/>
<rect x="802.75" y="705.80" width="5.75" height="25.33" fill="#fd7e14"/>
<rect x="802.75" y="698.80" width="5.75" height="7.00" fill="#cc5de8"/>
<rect x="802.75" y="680.83" width="5.75" height="17.96" fill="#2f9e44"/>
<rect x="817.54" y="747.11" width="5.75" height="19.94" fill="#ffd43b"/>
<rect x="817.54" y="729.33" width="5.75" height="17.78" fill="#f03e3e"/>
<rect x="817.54" y="727.35" width="5.75" height="1.98" fill="#38d9a9"/>
<rect x="817.54" y="720.35" width="5.75" height="7.00" fill="#cc5de8"/>
<rect x="817.54" y="709.39" width="5.75" height="10.96" fill="#2f9e44"/>
<rect x="832.33" y="759.51" width="5.75" height="7.54" fill="#ffd43b"/>
<rect x="832.33" y="752.68" width="5.75" height="6.83" fill="#f03e3e"/>
<rect x="832.33" y="741.90" width="5.75" height="10.78" fill="#38d9a9"/>
<rect x="832.33" y="736.34" width="5.75" height="5.57" fill="#cc5de8"/>
<rect x="832.33" y="735.26" width="5.75" height="1.08" fill="#faa2c1"/>
<rect x="832.33" y="723.94" width="5.75" height="11.32" fill="#2f9e44"/>
<rect x="847.12" y="763.46" width="5.75" height="3.59" fill="#ffd43b"/>
<rect x="847.12" y="759.51" width="5.75" height="3.95" fill="#f03e3e"/>
<rect x="847.12" y="752.68" width="5.75" height="6.83" fill="#fd7e14"/>
<rect x="847.12" y="734.72" width="5.75" height="17.96" fill="#2f9e44"/>
</g>
<g stroke="#888" stroke-width="0.9">
<line x1="77.50" x2="854.15" y1="771.45" y2="771.45" stroke-width="1"/>
<line x1="140.30" x2="140.30" y1="771.45" y2="775.35"/>
<line x1="205.75" x2="205.75" y1="771.45" y2="775.35"/>
<line x1="269.09" x2="269.09" y1="771.45" y2="775.35"/>
<line x1="334.54" x2="334.54" y1="771.45" y2="775.35"/>
<line x1="399.99" x2="399.99" y1="771.45" y2="775.35"/>
<line x1="461.22" x2="461.22" y1="771.45" y2="775.35"/>
<line x1="526.67" x2="526.67" y1="771.45" y2="775.35"/>
<line x1="590.01" x2="590.01" y1="771.45" y2="775.35"/>
<line x1="655.46" x2="655.46" y1="771.45" y2="775.35"/>
<line x1="718.80" x2="718.80" y1="771.45" y2="775.35"/>
<line x1="784.25" x2="784.25" y1="771.45" y2="775.35"/>
<line x1="849.70" x2="849.70" y1="771.45" y2="775.35"/>
</g>
<rect x="885.1" y="35.20" width="7.4" height="7.4" fill="#2f9e44"/>
<rect x="885.1" y="45.30" width="7.4" height="7.4" fill="#ffd43b"/>
<rect x="885.1" y="55.40" width="7.4" height="7.4" fill="#fd7e14"/>
<rect x="885.1" y="65.50" width="7.4" height="7.4" fill="#f03e3e"/>
<rect x="885.1" y="75.60" width="7.4" height="7.4" fill="#cc5de8"/>
<rect x="885.1" y="85.70" width="7.4" height="7.4" fill="#38d9a9"/>
<rect x="885.1" y="95.80" width="7.4" height="7.4" fill="#faa2c1"/>
<defs><filter id="tf" x="0" y="0" width="999" height="800" filterUnits="userSpaceOnUse"><feGaussianBlur stdDeviation="0.3"/></filter></defs>
<g filter="url(#tf)" stroke="#000" stroke-width="0.18">
<g font-size="7.77" fill="#000" text-anchor="end">
<text x="72.05" y="257.45">0</text>
<text x="72.05" y="228.36">20</text>
<text x="72.05" y="199.26">40</text>
<text x="72.05" y="170.17">60</text>
<text x="72.05" y="141.07">80</text>
<text x="72.05" y="111.98">100</text>
<text x="72.05" y="82.89">120</text>
<text x="72.05" y="53.79">140</text>
<text x="72.05" y="24.70">160</text>
</g>
<text transform="translate(53.6,138.72) rotate(-90)" text-anchor="middle" font-size="8.55" fill="#000">Observation Count</text>
<text transform="translate(35.8,138.72) rotate(-90)" text-anchor="middle" font-size="9.6" font-weight="bold" fill="#000">15774</text>
<g font-size="7.77" fill="#000" text-anchor="end">
<text x="72.05" y="515.45">0</text>
<text x="72.05" y="482.09">50</text>
<text x="72.05" y="448.74">100</text>
<text x="72.05" y="415.38">150</text>
<text x="72.05" y="382.02">200</text>
<text x="72.05" y="348.66">250</text>
<text x="72.05" y="315.31">300</text>
<text x="72.05" y="281.95">350</text>
</g>
<text transform="translate(53.6,396.35) rotate(-90)" text-anchor="middle" font-size="8.55" fill="#000">Observation Count</text>
<text transform="translate(35.8,396.35) rotate(-90)" text-anchor="middle" font-size="9.6" font-weight="bold" fill="#000">25513</text>
<g font-size="7.77" fill="#000" text-anchor="end">
<text x="72.05" y="769.40">0</text>
<text x="72.05" y="733.48">20</text>
<text x="72.05" y="697.55">40</text>
<text x="72.05" y="661.63">60</text>
<text x="72.05" y="625.71">80</text>
<text x="72.05" y="589.78">100</text>
<text x="72.05" y="553.86">120</text>
</g>
<text transform="translate(53.6,650.30) rotate(-90)" text-anchor="middle" font-size="8.55" fill="#000">Observation Count</text>
<text transform="translate(35.8,650.30) rotate(-90)" text-anchor="middle" font-size="9.6" font-weight="bold" fill="#000">41733</text>
<g font-size="7.77" font-weight="bold" fill="#000" text-anchor="middle">
<text x="140.30" y="783.3">October</text>
<text x="205.75" y="783.3">November</text>
<text x="269.09" y="783.3">December</text>
<text x="334.54" y="783.3">2024</text>
<text x="399.99" y="783.3">February</text>
<text x="461.22" y="783.3">March</text>
<text x="526.67" y="783.3">April</text>
<text x="590.01" y="783.3">May</text>
<text x="655.46" y="783.3">June</text>
<text x="718.80" y="783.3">July</text>
<text x="784.25" y="783.3">August</text>
<text x="849.70" y="783.3">September</text>
</g>
<text x="465.82" y="795.0" text-anchor="middle" font-size="8.55" fill="#000">measurement_start_time</text>
<text transform="translate(11.0,394.7) rotate(-90)" text-anchor="middle" font-size="8.55" fill="#000">ASN</text>
<text x="5" y="12" font-size="10.1" font-weight="bold" fill="#000">Blocking of cherta.media on the top 3 ASes with the largest OONI measurement coverage in Russia between September 2023 to September 2024</text>
<text x="884.6" y="28.8" font-size="8.55" font-weight="bold" fill="#000">Measurement results</text>
<text x="896.5" y="40.90" font-size="7.77" fill="#000">ok</text>
<text x="896.5" y="51.00" font-size="7.77" fill="#000">tls.timeout_after_client_hello</text>
<text x="896.5" y="61.10" font-size="7.77" fill="#000">tls.connection_reset</text>
<text x="896.5" y="71.20" font-size="7.77" fill="#000">tls.timeout</text>
<text x="896.5" y="81.30" font-size="7.77" fill="#000">tcp.timeout</text>
<text x="896.5" y="91.40" font-size="7.77" fill="#000">tls.eof_error</text>
<text x="896.5" y="101.50" font-size="7.77" fill="#000">other failures</text>
</g>
</svg>
</body></html>
